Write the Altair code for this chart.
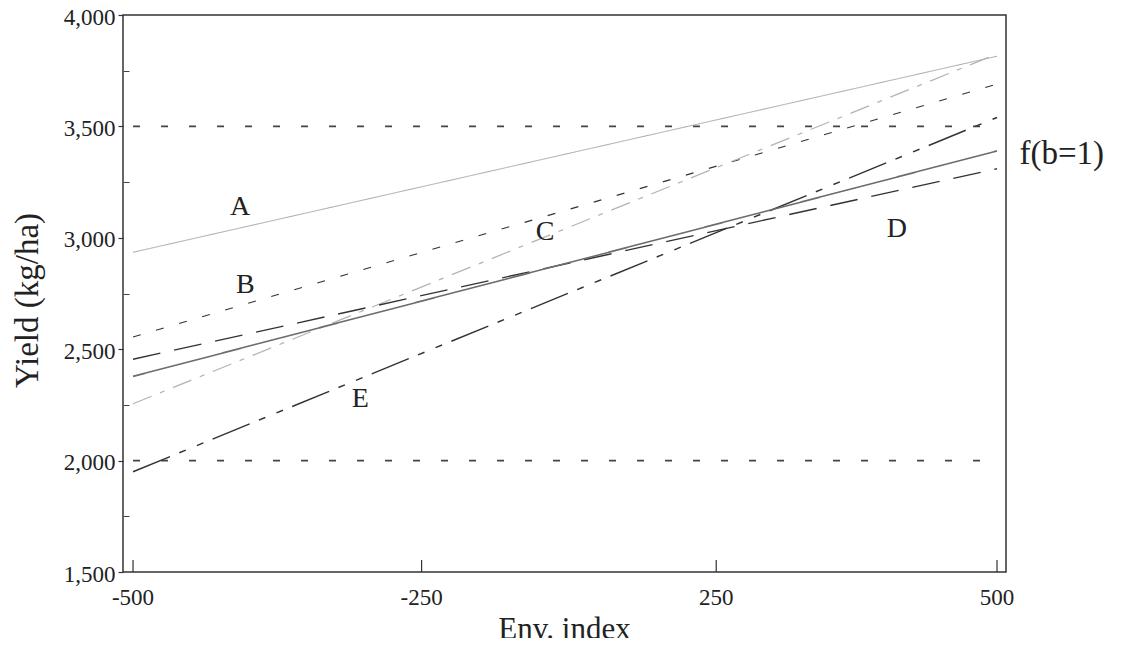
import altair as alt
import pandas as pd

# ---- data ----
series = ["A", "B", "C", "D", "E", "f(b=1)"]
x_start = [-500, -500, -500, -500, -500, -500]
x_end = [500, 500, 500, 500, 500, 500]
y_start = [2935, 2555, 2255, 2455, 1950, 2378]
y_end = [3815, 3690, 3825, 3310, 3540, 3390]

ref_levels = [3500, 2000]

label_text = ["A", "B", "C", "D", "E"]
label_x = [-376, -370, -23, 384, -237]
label_y = [3140, 2790, 3025, 3040, 2275]

f_text = ["f(b=1)"]
f_x = [575]
f_y = [3375]

x_tick_pos = [-500, -166, 175, 500]
x_tick_lab = ["-500", "-250", "250", "500"]
y_major = [1500, 2000, 2500, 3000, 3500, 4000]
y_minor = [1750, 2250, 2750, 3250, 3750]

# ---- tables ----
rows = []
for s, xa, xb, ya, yb in zip(series, x_start, x_end, y_start, y_end):
    rows.append({"series": s, "x": xa, "y": ya})
    rows.append({"series": s, "x": xb, "y": yb})
df = pd.DataFrame(rows)

ref_rows = []
for i, lv in enumerate(ref_levels):
    ref_rows.append({"ref": f"r{i}", "x": -500, "y": lv})
    ref_rows.append({"ref": f"r{i}", "x": 500, "y": lv})
df_ref = pd.DataFrame(ref_rows)

df_lab = pd.DataFrame({"t": label_text, "x": label_x, "y": label_y})
df_f = pd.DataFrame({"t": f_text, "x": f_x, "y": f_y})
df_xt = pd.DataFrame({"x": x_tick_pos, "t": x_tick_lab})

# ---- styles ----
FONT = "Liberation Serif"
colors = ["#a6a6a6", "#333333", "#b3b3b3", "#333333", "#333333", "#6c6c6c"]
dashes = [[1, 0], [8, 16], [20, 9, 5, 9], [28, 14], [40, 10, 7, 12, 7, 10], [1, 0]]
widths = [1.0, 1.6, 1.2, 1.6, 1.6, 5.0]

xscale = alt.Scale(domain=[-511.6, 510.4], nice=False, zero=False)
yscale = alt.Scale(domain=[1500, 4000], nice=False, zero=False)

y_axis = alt.Axis(
    orient="left",
    values=y_major, format=",.0f", tickSize=5, labelPadding=3, domain=False,
    grid=False, labelFont=FONT, labelFontSize=23, labelColor="#222222",
    labelOffset=2,
    tickColor="#333333", tickWidth=1.2, title="Yield (kg/ha)",
    titleFont=FONT, titleFontSize=33, titleFontWeight="normal",
    titleColor="#222222", titleX=-86, titleY=285, titleBaseline="alphabetic",
    titleAlign="center", titleAngle=-90,
)
y_minor_axis = alt.Axis(
    values=y_minor, tickSize=6, offset=-6, labels=False, domain=False,
    grid=False, title=None, orient="left", tickColor="#444444", tickWidth=1,
)

lines = alt.Chart(df).mark_line(clip=True).encode(
    x=alt.X("x:Q", scale=xscale, axis=None),
    y=alt.Y("y:Q", scale=yscale, axis=y_axis),
    detail="series:N",
    color=alt.Color("series:N", scale=alt.Scale(domain=series, range=colors), legend=None),
    strokeDash=alt.StrokeDash("series:N", scale=alt.Scale(domain=series, range=dashes), legend=None),
    strokeWidth=alt.StrokeWidth("series:N", scale=alt.Scale(domain=series, range=widths), legend=None),
)

refs = alt.Chart(df_ref).mark_line(
    color="#444444", strokeDash=[7, 21], strokeWidth=1.6, clip=True
).encode(
    x=alt.X("x:Q", scale=xscale, axis=None),
    y=alt.Y("y:Q", scale=yscale, axis=y_minor_axis),
    detail="ref:N",
)

# inward x ticks and their labels, placed through the x scale
xticks = alt.Chart(df_xt).mark_rule(color="#333333", strokeWidth=1.2).encode(
    x=alt.X("x:Q", scale=xscale, axis=None),
    y=alt.value(545),
    y2=alt.value(557),
)
xticklabels = alt.Chart(df_xt).mark_text(
    font=FONT, fontSize=23, color="#222222", align="center", baseline="middle"
).encode(
    x=alt.X("x:Q", scale=xscale, axis=None),
    y=alt.value(583),
    text="t:N",
)

labels = alt.Chart(df_lab).mark_text(
    font=FONT, fontSize=28, color="#222222", align="center", baseline="middle"
).encode(
    x=alt.X("x:Q", scale=xscale, axis=None),
    y=alt.Y("y:Q", scale=yscale, axis=None),
    text="t:N",
)

flab = alt.Chart(df_f).mark_text(
    font=FONT, fontSize=33, color="#222222", align="center", baseline="middle"
).encode(
    x=alt.X("x:Q", scale=xscale, axis=None),
    y=alt.Y("y:Q", scale=yscale, axis=None),
    text="t:N",
)

chart = (
    alt.layer(lines, refs, xticks, xticklabels, labels, flab)
    .resolve_axis(y="independent")
    .properties(
        width=883,
        height=557,
        autosize=alt.AutoSizeParams(type="none"),
        padding={"left": 115, "top": 7, "right": 107, "bottom": 66},
        background="white",
        title=alt.TitleParams(
            text="Env. index", orient="bottom", anchor="middle",
            font=FONT, fontSize=31, fontWeight="normal", color="#222222",
            baseline="top", offset=5,
        ),
    )
    .configure_view(stroke="#333333", strokeWidth=1.5)
)

chart.save("out.html", embed_options={"renderer": "svg", "actions": False})
